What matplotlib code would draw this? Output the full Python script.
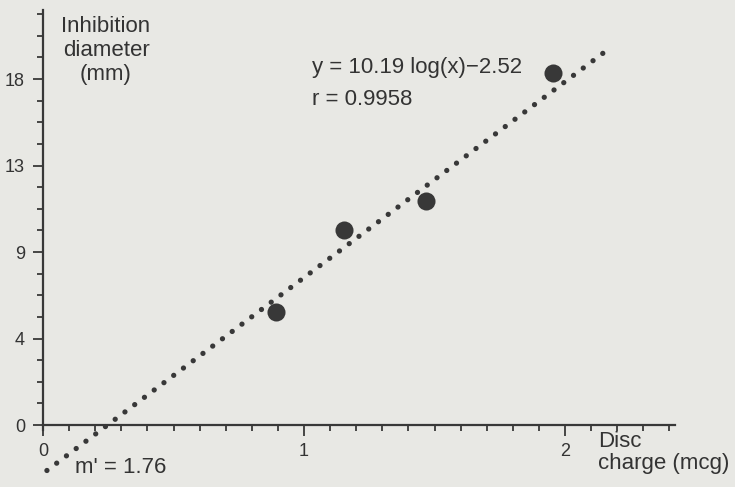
import numpy as np
import matplotlib
matplotlib.use('Agg')
from matplotlib import pyplot

pyplot.rcParams['font.family'] = ['Liberation Sans', 'DejaVu Sans']

## data
disc_charge = [0.893, 1.153, 1.469, 1.954]   # log of disc charge (mcg)
inhibition = [5.9, 10.15, 11.65, 18.3]       # inhibition diameter (mm)
slope, intercept = 10.19, -2.52
fit_range = [0.015, 2.17]
y_tick_labels = ['0', '4', '9', '13', '18']
x_tick_labels = ['0', '1', '2']

ink = '#383838'
paper = '#e8e8e4'

W, H = 735, 487
fig = pyplot.figure(figsize=(W / 100, H / 100), dpi=100, facecolor=paper)
ax = fig.add_axes([0, 0, 1, 1], facecolor=paper)

# pixel mapping: x=0 at px 43, 261 px per unit; y=0 at px 425, 19.22 px per unit
x0, xs = 43, 261
y0, ys = 425, 19.22
ax.set_xlim(-x0 / xs, (W - x0) / xs)
ax.set_ylim(-(H - y0) / ys, y0 / ys)

# regression line (dotted) and measured points
fx = np.array(fit_range)
ax.plot(fx, slope * fx + intercept, color=ink, lw=3.8,
        linestyle=(0, (0.01, 2.3)), dash_capstyle='round')
ax.plot(disc_charge, inhibition, 'o', color=ink, ms=13, mec='none')

# axes
for s in ['top', 'right']:
    ax.spines[s].set_visible(False)
ax.spines['left'].set_position(('data', 0))
ax.spines['bottom'].set_position(('data', 0))
ax.spines['left'].set_bounds(-0.25, 21.6)
ax.spines['bottom'].set_bounds(0, 2.42)
for s in ['left', 'bottom']:
    ax.spines[s].set_color(ink)
    ax.spines[s].set_linewidth(1.6)

ax.set_yticks(np.arange(len(y_tick_labels)) * 4.5)
ax.set_yticklabels(y_tick_labels)
ax.set_yticks(np.arange(0, 21.5, 1.125), minor=True)
ax.set_xticks(np.arange(len(x_tick_labels)))
ax.set_xticklabels(x_tick_labels)
ax.set_xticks(np.arange(0, 2.45, 0.1), minor=True)

ax.tick_params(which='both', colors=ink, labelcolor='#333333', width=1.3)
ax.tick_params(axis='y', which='major', length=7, pad=6, labelsize=13)
ax.tick_params(axis='y', which='minor', length=4.5)
ax.tick_params(axis='x', which='major', length=8, pad=5, labelsize=13)
ax.tick_params(axis='x', which='minor', length=4.2)

def px(x, y):
    return x / W, 1 - y / H

tc = '#333333'
def label(x, y, s, **kw):
    fig.text(*px(x, y), s, fontsize=16, color=tc, va='baseline', **kw)

label(106, 32, 'Inhibition', ha='center')
label(106, 56, 'diameter', ha='center')
label(106, 80, '(mm)', ha='center')
label(312, 73, 'y = 10.19 log(x)\u22122.52')
label(312, 105, 'r = 0.9958')
label(598, 447, 'Disc')
label(598, 469, 'charge (mcg)')
label(75, 473, "m' = 1.76")

pyplot.savefig('out.png', dpi=100, facecolor=paper)
pyplot.close()
